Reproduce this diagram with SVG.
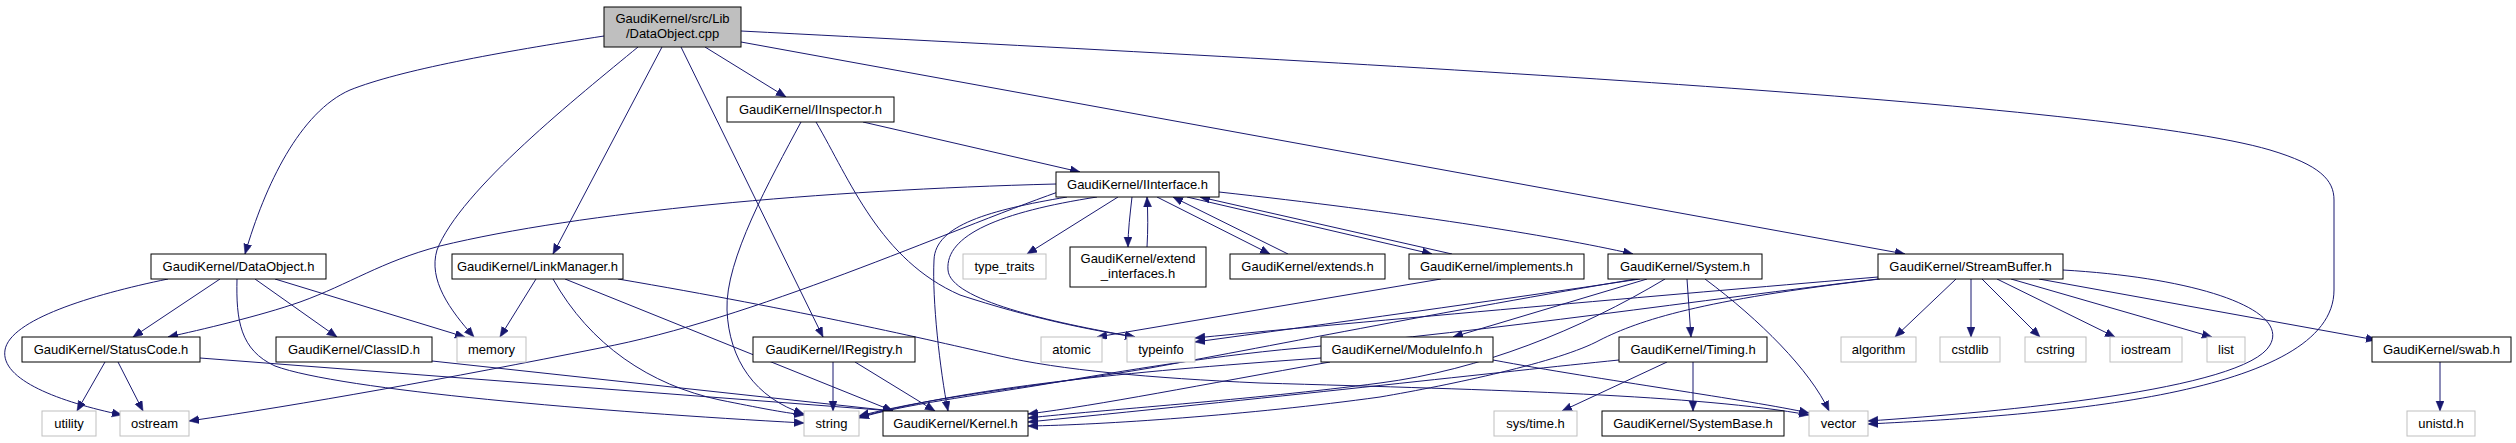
<svg xmlns="http://www.w3.org/2000/svg" width="2516" height="443" viewBox="0 0 2516 443">
<style>
.n rect{fill:#fff;stroke:#000;stroke-width:1}
.g rect{fill:#fff;stroke:#bfbfbf;stroke-width:1}
.r rect{fill:#bfbfbf;stroke:#000;stroke-width:1}
text{font-family:"Liberation Sans",Arial,sans-serif;font-size:13px;fill:#000;text-anchor:middle}
#edges path{fill:none;stroke:#191970;stroke-width:1;marker-end:url(#a)}
</style>
<defs>
<marker id="a" markerUnits="userSpaceOnUse" markerWidth="11" markerHeight="9" refX="10" refY="4" orient="auto">
<polygon points="0,0 10,4 0,8" fill="#191970" stroke="#191970" stroke-width="0.5"/>
</marker>
</defs>
<rect width="2516" height="443" fill="#fff"/>
<g id="edges">
<path d="M604,36 C500,52 400,70 350,90 C300,112 265,185 245,254"/>
<path d="M638,47 C580,95 460,190 437,250 C428,280 450,310 474,337"/>
<path d="M662,47 L553,254"/>
<path d="M681,47 L823,337"/>
<path d="M705,47 L786,97"/>
<path d="M741,42 L1905,254"/>
<path d="M741,31 C1300,60 2100,100 2270,150 C2320,165 2334,180 2334,200 L2334,290 C2334,395 2050,415 1868,424"/>
<path d="M863,122 L1080,172"/>
<path d="M801,122 C770,180 725,260 727,310 C729,360 755,398 804,414"/>
<path d="M816,122 C850,180 880,260 960,295 C1030,318 1090,330 1135,337"/>
<path d="M1056,184 C820,190 580,212 440,246 C380,262 350,284 300,302 C260,316 200,330 168,337"/>
<path d="M1058,192 C950,230 750,320 600,348 C450,378 300,405 189,421"/>
<path d="M1067,197 C990,210 935,225 934,260 C932,300 940,370 948,411"/>
<path d="M1097,197 C1000,212 945,235 948,270 C950,300 1050,322 1135,337"/>
<path d="M1118,197 L1027,254"/>
<path d="M1132,197 C1130,215 1128,230 1128,247"/>
<path d="M1147,247 C1148,230 1148,215 1147,197"/>
<path d="M1157,197 L1270,254"/>
<path d="M1288,254 L1173,197"/>
<path d="M1187,197 L1432,254"/>
<path d="M1452,254 L1200,197"/>
<path d="M1219,192 C1400,212 1550,235 1633,254"/>
<path d="M1441,279 L1097,337"/>
<path d="M168,279 C90,295 10,320 5,350 C0,380 60,402 122,415"/>
<path d="M220,279 L133,337"/>
<path d="M237,279 C236,320 240,350 275,366 C340,390 600,412 804,423"/>
<path d="M255,279 L337,337"/>
<path d="M275,279 L465,337"/>
<path d="M105,362 L77,411"/>
<path d="M118,362 L143,411"/>
<path d="M200,358 L893,411"/>
<path d="M432,361 L893,411"/>
<path d="M536,279 L500,337"/>
<path d="M553,279 C590,345 650,385 720,400 C760,408 780,412 804,415"/>
<path d="M565,279 L893,411"/>
<path d="M618,279 C800,310 930,340 1000,356 C1060,370 1150,378 1260,383 C1500,390 1700,395 1809,415"/>
<path d="M833,362 L833,411"/>
<path d="M855,362 L935,411"/>
<path d="M1640,279 C1500,300 1320,325 1195,342"/>
<path d="M1878,277 C1700,292 1400,318 1195,338"/>
<path d="M1636,279 C1450,310 1250,350 1150,368 C1050,385 940,395 859,416"/>
<path d="M1665,279 C1580,330 1480,370 1380,383 C1250,400 1100,410 1028,418"/>
<path d="M1647,279 L1453,337"/>
<path d="M1687,279 L1691,337"/>
<path d="M1705,279 C1760,320 1810,370 1829,411"/>
<path d="M1878,279 C1700,300 1500,330 1300,348 C1200,357 1100,375 1040,385 C980,395 900,405 859,418"/>
<path d="M1880,279 C1700,300 1640,320 1600,340 C1560,362 1450,385 1380,397 C1250,415 1100,425 1028,426"/>
<path d="M1956,279 L1895,337"/>
<path d="M1971,279 L1971,337"/>
<path d="M1982,279 L2040,337"/>
<path d="M1997,279 L2115,337"/>
<path d="M2011,279 L2212,337"/>
<path d="M2039,279 L2376,340"/>
<path d="M2063,270 C2200,278 2290,310 2270,345 C2245,390 2000,412 1868,421"/>
<path d="M1321,358 C1150,370 980,385 859,417"/>
<path d="M1330,362 C1200,385 1100,405 1028,414"/>
<path d="M1493,360 C1600,380 1750,400 1809,413"/>
<path d="M1619,360 C1500,372 1300,395 1028,422"/>
<path d="M1667,362 L1562,411"/>
<path d="M1693,362 L1693,411"/>
<path d="M2440,362 L2440,411"/>
</g>
<g id="root" class="r"><rect x="604" y="7" width="137" height="40"/><text x="672.5" y="22.5">GaudiKernel/src/Lib</text><text x="672.5" y="37.5">/DataObject.cpp</text></g>
<g id="IInspector" class="n"><rect x="727" y="97" width="167" height="25"/><text x="810.5" y="114">GaudiKernel/IInspector.h</text></g>
<g id="IInterface" class="n"><rect x="1056" y="172" width="163" height="25"/><text x="1137.5" y="189">GaudiKernel/IInterface.h</text></g>
<g id="DataObject" class="n"><rect x="151" y="254" width="175" height="25"/><text x="238.5" y="271">GaudiKernel/DataObject.h</text></g>
<g id="LinkManager" class="n"><rect x="452" y="254" width="171" height="25"/><text x="537.5" y="271">GaudiKernel/LinkManager.h</text></g>
<g id="type_traits" class="g"><rect x="963" y="254" width="83" height="25"/><text x="1004.5" y="271">type_traits</text></g>
<g id="extend_interfaces" class="n"><rect x="1070" y="247" width="136" height="40"/><text x="1138" y="262.5">GaudiKernel/extend</text><text x="1138" y="277.5">_interfaces.h</text></g>
<g id="extends" class="n"><rect x="1230" y="254" width="155" height="25"/><text x="1307.5" y="271">GaudiKernel/extends.h</text></g>
<g id="implements" class="n"><rect x="1409" y="254" width="175" height="25"/><text x="1496.5" y="271">GaudiKernel/implements.h</text></g>
<g id="System" class="n"><rect x="1608" y="254" width="154" height="25"/><text x="1685" y="271">GaudiKernel/System.h</text></g>
<g id="StreamBuffer" class="n"><rect x="1878" y="254" width="185" height="25"/><text x="1970.5" y="271">GaudiKernel/StreamBuffer.h</text></g>
<g id="StatusCode" class="n"><rect x="22" y="337" width="178" height="25"/><text x="111" y="354">GaudiKernel/StatusCode.h</text></g>
<g id="ClassID" class="n"><rect x="276" y="337" width="156" height="25"/><text x="354" y="354">GaudiKernel/ClassID.h</text></g>
<g id="memory" class="g"><rect x="457" y="337" width="69" height="25"/><text x="491.5" y="354">memory</text></g>
<g id="IRegistry" class="n"><rect x="753" y="337" width="162" height="25"/><text x="834" y="354">GaudiKernel/IRegistry.h</text></g>
<g id="atomic" class="g"><rect x="1041" y="337" width="61" height="25"/><text x="1071.5" y="354">atomic</text></g>
<g id="typeinfo" class="g"><rect x="1127" y="337" width="68" height="25"/><text x="1161" y="354">typeinfo</text></g>
<g id="ModuleInfo" class="n"><rect x="1321" y="337" width="172" height="25"/><text x="1407" y="354">GaudiKernel/ModuleInfo.h</text></g>
<g id="Timing" class="n"><rect x="1619" y="337" width="148" height="25"/><text x="1693" y="354">GaudiKernel/Timing.h</text></g>
<g id="algorithm" class="g"><rect x="1841" y="337" width="75" height="25"/><text x="1878.5" y="354">algorithm</text></g>
<g id="cstdlib" class="g"><rect x="1940" y="337" width="60" height="25"/><text x="1970" y="354">cstdlib</text></g>
<g id="cstring" class="g"><rect x="2025" y="337" width="61" height="25"/><text x="2055.5" y="354">cstring</text></g>
<g id="iostream" class="g"><rect x="2110" y="337" width="72" height="25"/><text x="2146" y="354">iostream</text></g>
<g id="list" class="g"><rect x="2207" y="337" width="38" height="25"/><text x="2226" y="354">list</text></g>
<g id="swab" class="n"><rect x="2372" y="337" width="139" height="25"/><text x="2441.5" y="354">GaudiKernel/swab.h</text></g>
<g id="utility" class="g"><rect x="42" y="411" width="54" height="25"/><text x="69" y="428">utility</text></g>
<g id="ostream" class="g"><rect x="120" y="411" width="69" height="25"/><text x="154.5" y="428">ostream</text></g>
<g id="string" class="g"><rect x="804" y="411" width="55" height="25"/><text x="831.5" y="428">string</text></g>
<g id="Kernel" class="n"><rect x="883" y="411" width="145" height="25"/><text x="955.5" y="428">GaudiKernel/Kernel.h</text></g>
<g id="systime" class="g"><rect x="1494" y="411" width="83" height="25"/><text x="1535.5" y="428">sys/time.h</text></g>
<g id="SystemBase" class="n"><rect x="1602" y="411" width="182" height="25"/><text x="1693" y="428">GaudiKernel/SystemBase.h</text></g>
<g id="vector" class="g"><rect x="1809" y="411" width="59" height="25"/><text x="1838.5" y="428">vector</text></g>
<g id="unistd" class="g"><rect x="2407" y="411" width="68" height="25"/><text x="2441" y="428">unistd.h</text></g>
</svg>
